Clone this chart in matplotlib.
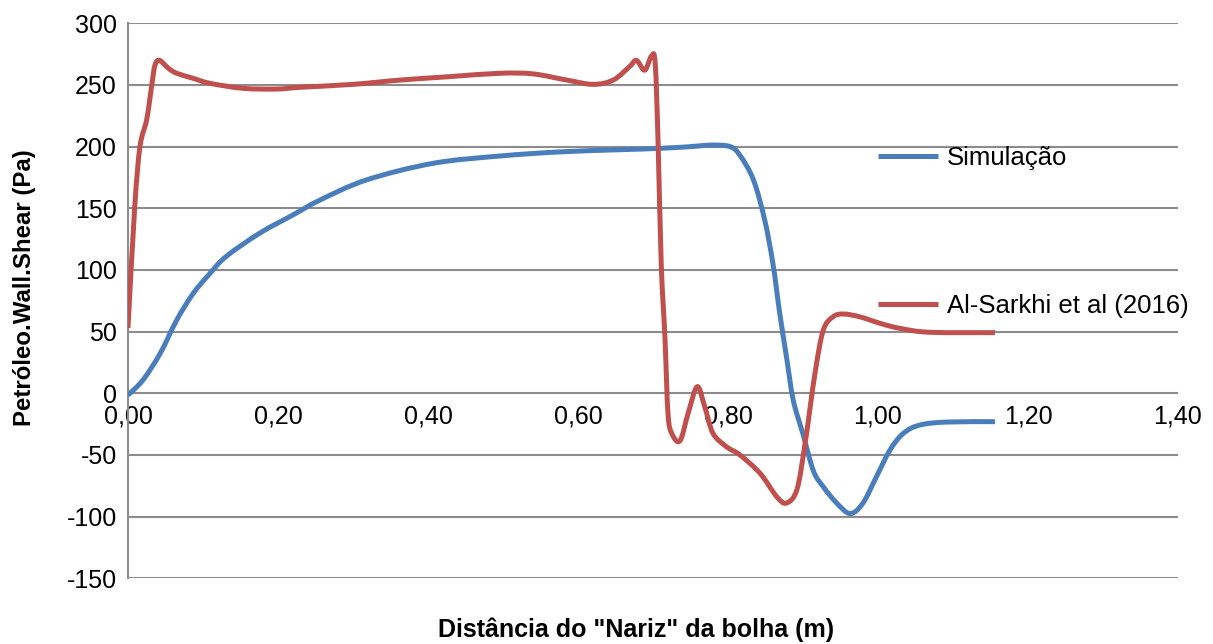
import matplotlib
matplotlib.use("Agg")
import matplotlib.pyplot as plt
from matplotlib.lines import Line2D
from matplotlib.patches import PathPatch
from matplotlib.path import Path
from matplotlib.ticker import FuncFormatter

plt.rcParams["font.family"] = ["Liberation Sans", "DejaVu Sans"]
plt.rcParams["axes.unicode_minus"] = False

# Simulação
sim_x = [0.000, 0.020, 0.043, 0.065, 0.087, 0.109, 0.131, 0.176, 0.220, 0.256,
         0.318, 0.407, 0.496, 0.585, 0.709, 0.760, 0.780, 0.803, 0.816, 0.834,
         0.849, 0.860, 0.869, 0.878, 0.887, 0.900, 0.914, 0.927, 0.945, 0.963,
         0.980, 0.998, 1.016, 1.034, 1.056, 1.092, 1.156]
sim_y = [-1.5, 10.8, 32.4, 59.4, 81.0, 97.0, 111.0, 130.0, 144.6, 156.7,
         173.0, 186.5, 192.4, 196.0, 198.6, 200.5, 201.3, 200.0, 193.0, 173.0,
         140.5, 105.0, 65.0, 29.7, -5.4, -33.0, -63.0, -75.7, -89.0, -97.5,
         -89.0, -67.6, -46.0, -32.4, -25.7, -23.3, -23.0]

# Al-Sarkhi et al (2016)
ref_x = [0.000, 0.009, 0.016, 0.025, 0.032, 0.036, 0.042, 0.054, 0.065, 0.087,
         0.109, 0.153, 0.198, 0.229, 0.300, 0.363, 0.430, 0.496, 0.540, 0.585,
         0.620, 0.647, 0.669, 0.678, 0.689, 0.698, 0.703, 0.707, 0.711, 0.716,
         0.720, 0.725, 0.736, 0.747, 0.759, 0.769, 0.780, 0.798, 0.816, 0.843,
         0.865, 0.878, 0.892, 0.903, 0.916, 0.927, 0.940, 0.954, 0.976, 1.003,
         1.029, 1.069, 1.156]
ref_y = [53.0, 151.0, 200.0, 222.0, 251.0, 266.0, 270.0, 263.5, 259.5, 255.4,
         251.4, 247.3, 246.7, 248.1, 250.5, 254.0, 256.8, 259.5, 259.0, 254.0,
         250.5, 254.0, 265.0, 270.0, 262.0, 273.5, 267.5, 200.0, 105.0, 45.0,
         -16.0, -32.4, -38.5, -16.0, 5.4, -10.8, -32.4, -43.3, -50.0, -65.0,
         -83.8, -89.0, -78.0, -40.0, 16.0, 51.0, 62.0, 64.3, 62.0, 56.7,
         52.7, 49.5, 49.2]

x_ticks = [0.0, 0.2, 0.4, 0.6, 0.8, 1.0, 1.2, 1.4]
y_ticks = [-150, -100, -50, 0, 50, 100, 150, 200, 250, 300]

blue = "#4a7ebb"
red = "#c0504d"
grid_col = "#8c8c8c"
line_w = 3.6


# Smoothed line through the points (Catmull-Rom as cubic Bezier segments),
# the same look as the "smooth line" option of the original spreadsheet chart.
def smooth_path(xs, ys):
    pts = list(zip(xs, ys))
    verts = [pts[0]]
    codes = [Path.MOVETO]
    n = len(pts)
    for i in range(n - 1):
        p0 = pts[max(i - 1, 0)]
        p1 = pts[i]
        p2 = pts[i + 1]
        p3 = pts[min(i + 2, n - 1)]
        c1 = (p1[0] + (p2[0] - p0[0]) / 6, p1[1] + (p2[1] - p0[1]) / 6)
        c2 = (p2[0] - (p3[0] - p1[0]) / 6, p2[1] - (p3[1] - p1[1]) / 6)
        verts += [c1, c2, p2]
        codes += [Path.CURVE4] * 3
    return Path(verts, codes)


fig = plt.figure(figsize=(12.13, 6.44), dpi=100)
ax = fig.add_axes([0.1055, 0.102, 0.8656, 0.8618])

for xs, ys, col in [(sim_x, sim_y, blue), (ref_x, ref_y, red)]:
    ax.add_patch(PathPatch(smooth_path(xs, ys), facecolor="none", edgecolor=col,
                           lw=line_w, capstyle="butt", joinstyle="round", zorder=3))

ax.set_xlim(0, 1.4)
ax.set_ylim(-150, 300)
ax.set_xticks(x_ticks)
ax.set_yticks(y_ticks)
ax.xaxis.set_major_formatter(FuncFormatter(lambda v, p: f"{v:.2f}".replace(".", ",")))
ax.yaxis.grid(True, color=grid_col, lw=1.5)
ax.set_axisbelow(True)

for side in ["top", "right"]:
    ax.spines[side].set_visible(False)
ax.spines["left"].set_color(grid_col)
ax.spines["left"].set_linewidth(1.5)
ax.spines["bottom"].set_position(("data", 0))
ax.spines["bottom"].set_visible(False)
ax.tick_params(axis="both", length=0, labelsize=18)
ax.tick_params(axis="x", pad=8)
ax.tick_params(axis="y", pad=8)

fig.text(0.5247, 0.022, 'Distância do "Nariz" da bolha (m)', ha="center", va="center",
         fontsize=18, fontweight="bold")
fig.text(0.0206, 0.553, "Petróleo.Wall.Shear (Pa)", ha="center", va="center",
         rotation=90, fontsize=17.3, fontweight="bold")

h_sim = Line2D([], [], color=blue, lw=line_w, solid_capstyle="butt")
h_ref = Line2D([], [], color=red, lw=line_w, solid_capstyle="butt")
leg_kw = dict(loc="center left", frameon=False, fontsize=18.5, handlelength=2.33,
              handletextpad=0.35, borderaxespad=0, borderpad=0)
leg1 = ax.legend([h_sim], ["Simulação"], bbox_to_anchor=(0.714, 0.757), **leg_kw)
ax.add_artist(leg1)
ax.legend([h_ref], ["Al-Sarkhi et al (2016)"], bbox_to_anchor=(0.714, 0.491), **leg_kw)

fig.savefig("out.png", dpi=100)
